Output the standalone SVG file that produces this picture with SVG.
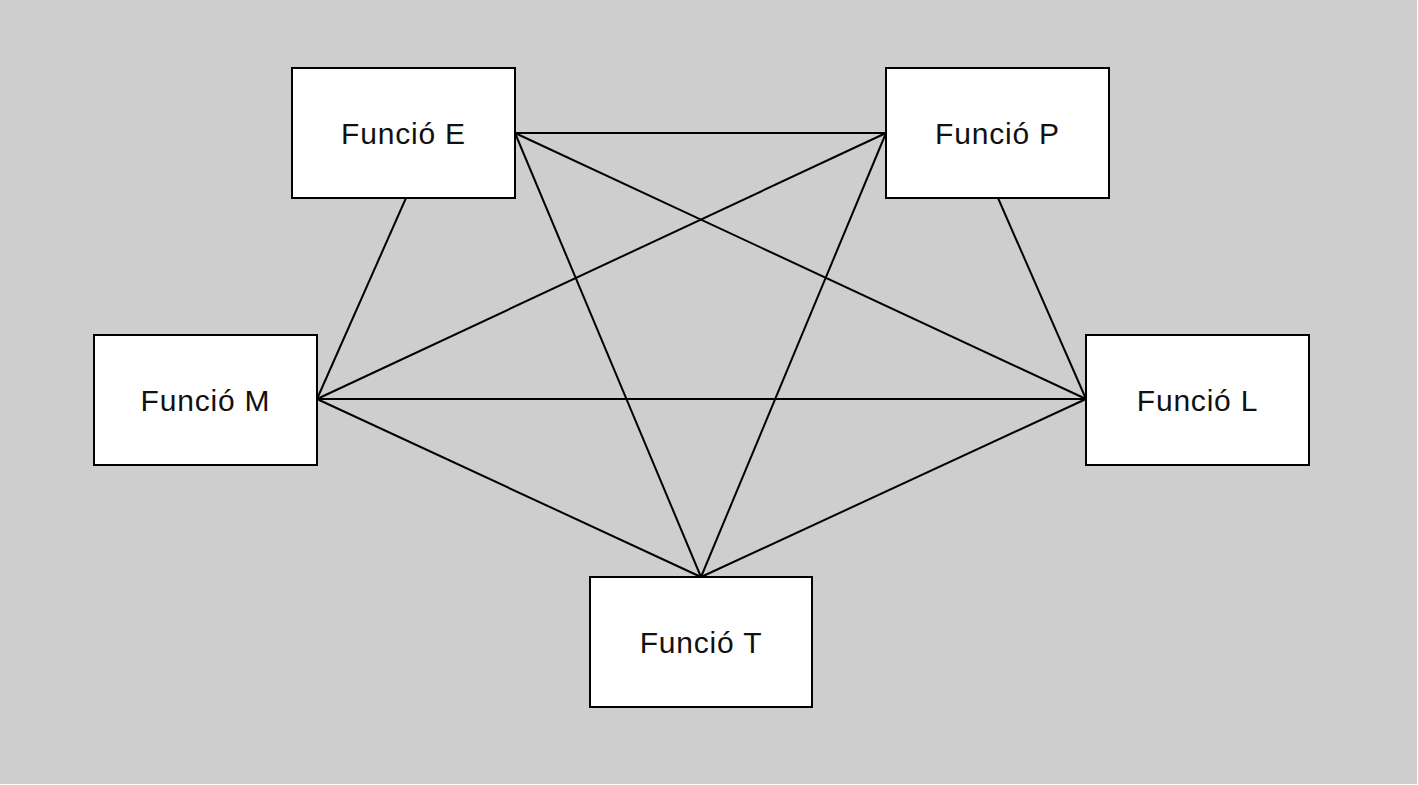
<svg xmlns="http://www.w3.org/2000/svg" width="1418" height="785" viewBox="0 0 1418 785">
<style>
.bg{fill:#cecece}
.box{fill:#ffffff;stroke:#000000;stroke-width:2}
.lbl{font-family:"Liberation Sans",Arial,sans-serif;font-size:30px;fill:#111111;text-anchor:middle;letter-spacing:0.8px}
.edge{stroke:#000000;stroke-width:2;fill:none}
</style>
<rect class="bg" x="0" y="0" width="1417" height="784"/>
<g id="connectors">
<line class="edge" x1="515" y1="133" x2="886" y2="133"/>
<line class="edge" x1="515" y1="133" x2="1086" y2="399"/>
<line class="edge" x1="515" y1="133" x2="701" y2="577"/>
<line class="edge" x1="886" y1="133" x2="317" y2="399"/>
<line class="edge" x1="886" y1="133" x2="701" y2="577"/>
<line class="edge" x1="406" y1="198" x2="317" y2="399"/>
<line class="edge" x1="998" y1="198" x2="1086" y2="399"/>
<line class="edge" x1="317" y1="399" x2="1086" y2="399"/>
<line class="edge" x1="317" y1="399" x2="701" y2="577"/>
<line class="edge" x1="1086" y1="399" x2="701" y2="577"/>
</g>
<g id="node-E"><rect class="box" x="292" y="68" width="223" height="130"/><text class="lbl" x="403.5" y="144">Funció E</text></g>
<g id="node-P"><rect class="box" x="886" y="68" width="223" height="130"/><text class="lbl" x="997.5" y="144">Funció P</text></g>
<g id="node-M"><rect class="box" x="94" y="335" width="223" height="130"/><text class="lbl" x="205.5" y="411">Funció M</text></g>
<g id="node-L"><rect class="box" x="1086" y="335" width="223" height="130"/><text class="lbl" x="1197.5" y="411">Funció L</text></g>
<g id="node-T"><rect class="box" x="590" y="577" width="222" height="130"/><text class="lbl" x="701" y="653">Funció T</text></g>
</svg>
